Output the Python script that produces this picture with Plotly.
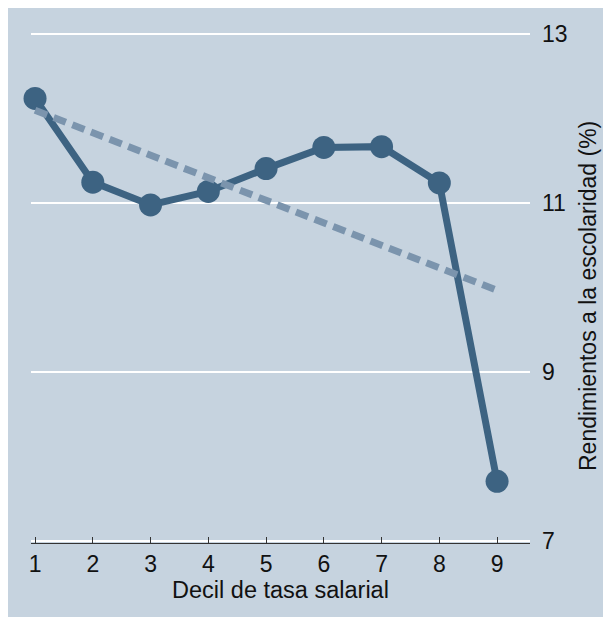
import plotly.graph_objects as go

# Data
deciles = [1, 2, 3, 4, 5, 6, 7, 8, 9]
returns = [12.24, 11.25, 10.98, 11.14, 11.41, 11.66, 11.67, 11.24, 7.71]
fit_x = [1, 9]
fit_y = [12.10, 9.97]
x_ticks = [1, 2, 3, 4, 5, 6, 7, 8, 9]
y_ticks = [7, 9, 11, 13]

BG = "#c6d3df"
MAIN = "#3d6382"
FIT = "#7b94ad"
FONT = "Liberation Sans, Arial, sans-serif"

fig = go.Figure()
fig.add_trace(go.Scatter(
    x=deciles, y=returns, mode="lines+markers",
    line=dict(color=MAIN, width=7),
    marker=dict(color=MAIN, size=23),
    cliponaxis=False, showlegend=False,
))
fig.add_trace(go.Scatter(
    x=fit_x, y=fit_y, mode="lines",
    line=dict(color=FIT, width=7, dash="13px,7px"),
    cliponaxis=False, showlegend=False,
))

W, H = 611, 617
L, R, T, B = 23, 89, 22, 82
pw = W - L - R
ph = H - T - B

fig.add_annotation(
    text="Rendimientos a la escolaridad (%)",
    xref="paper", yref="paper",
    x=(580 - L) / pw, y=1 - (288 - T) / ph,
    xanchor="center", yanchor="middle",
    textangle=-90, showarrow=False,
    font=dict(size=23),
)

fig.update_layout(
    width=W, height=H,
    margin=dict(l=L, r=R, t=T, b=B),
    paper_bgcolor=BG,
    plot_bgcolor=BG,
    font=dict(family=FONT, size=23, color="#111111"),
    xaxis=dict(
        range=[0.93, 9.57],
        tickvals=x_ticks,
        showgrid=False, zeroline=False,
        showline=True, linecolor="#333333", linewidth=1,
        ticks="inside", ticklen=6, tickcolor="#333333", tickwidth=1,
        ticklabelstandoff=0,
        tickfont=dict(size=23),
        title=dict(text="Decil de tasa salarial", font=dict(size=23.5), standoff=0),
    ),
    yaxis=dict(
        range=[6.98, 13.05],
        side="right",
        tickvals=y_ticks,
        showgrid=True, gridcolor="white", gridwidth=2,
        zeroline=False, showline=False,
        ticks="", ticklabelstandoff=11,
        tickfont=dict(size=23),
    ),
)

fig.write_html("out.html")
